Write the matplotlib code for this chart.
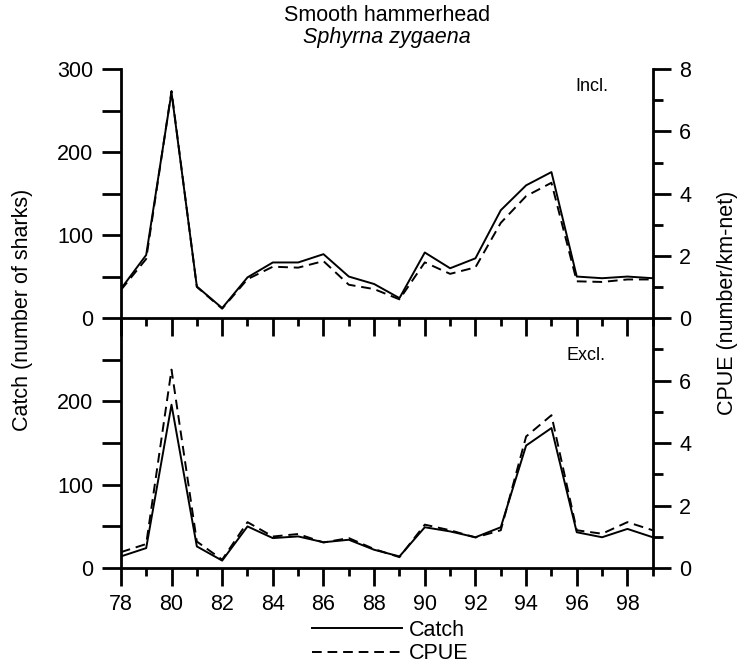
import matplotlib
matplotlib.use("Agg")
import matplotlib.pyplot as plt
from matplotlib.ticker import MultipleLocator, FixedLocator, FuncFormatter

plt.rcParams["font.family"] = ["Liberation Sans", "DejaVu Sans"]

years = list(range(78, 100))

# Incl. panel
catch_incl = [35, 76, 272, 38, 12, 49, 67, 67, 77, 50, 41,
              24, 79, 60, 72, 130, 160, 176, 50, 48, 50, 48]
cpue_incl = [0.9, 1.9, 7.3, 1.0, 0.3, 1.25, 1.65, 1.62, 1.83, 1.07, 0.93,
             0.6, 1.79, 1.42, 1.63, 3.06, 3.92, 4.35, 1.18, 1.16, 1.24, 1.24]

# Excl. panel
catch_excl = [14, 24, 196, 26, 9, 50, 36, 38, 31, 34, 22,
              14, 49, 44, 37, 49, 147, 168, 43, 37, 47, 37]
cpue_excl = [0.51, 0.77, 6.35, 0.85, 0.27, 1.47, 1.01, 1.09, 0.82, 0.96, 0.61,
             0.35, 1.39, 1.21, 0.98, 1.21, 4.21, 4.89, 1.21, 1.1, 1.47, 1.21]

FS = 15.5
LW = 1.4
DASH = (0, (5, 3))

fig = plt.figure(figsize=(7.46, 6.66), dpi=100)
left, width = 0.162, 0.713
ax_top = fig.add_axes([left, 0.5225, width, 0.3735])
ax_bot = fig.add_axes([left, 0.147, width, 0.3755])


def style_axes(ax, axr, left_ticks, left_labels, right_ticks, right_labels, show_xlabels):
    ax.set_xlim(78, 99)
    ax.set_ylim(0, 300)
    axr.set_ylim(0, 8)
    for a in (ax, axr):
        a.patch.set_visible(False)
        for s in a.spines.values():
            s.set_linewidth(2)
        a.spines["top"].set_visible(False)
    ax.spines["right"].set_visible(False)
    axr.spines["left"].set_visible(False)
    axr.spines["bottom"].set_visible(False)

    ax.xaxis.set_major_locator(MultipleLocator(2))
    ax.xaxis.set_minor_locator(MultipleLocator(1))
    ax.tick_params(axis="x", which="major", direction="out", length=13, width=2,
                   labelsize=FS, labelbottom=show_xlabels, pad=6)
    ax.tick_params(axis="x", which="minor", direction="out", length=6, width=2)

    ax.yaxis.set_major_locator(FixedLocator(left_ticks))
    ax.yaxis.set_major_formatter(FuncFormatter(
        lambda v, p: f"{int(v)}" if int(v) in left_labels else ""))
    ax.tick_params(axis="y", which="major", direction="out", length=14, width=2,
                   labelsize=FS, pad=6)

    axr.yaxis.set_major_locator(FixedLocator(right_labels))
    axr.yaxis.set_minor_locator(FixedLocator([t for t in right_ticks if t not in right_labels]))
    axr.yaxis.set_major_formatter(FuncFormatter(lambda v, p: f"{int(v)}"))
    axr.tick_params(axis="y", which="major", direction="out", length=13, width=2,
                    labelsize=FS, pad=6)
    axr.tick_params(axis="y", which="minor", direction="out", length=7, width=2)


ax_top_r = ax_top.twinx()
ax_top.plot(years, catch_incl, color="black", lw=LW, label="Catch")
ax_top_r.plot(years, cpue_incl, color="black", lw=LW, linestyle=DASH, label="CPUE")
style_axes(ax_top, ax_top_r, list(range(0, 301, 50)), [0, 100, 200, 300],
           list(range(0, 9)), [0, 2, 4, 6, 8], False)
ax_top.text(0.885, 0.93, "Incl.", transform=ax_top.transAxes, fontsize=13,
            ha="center", va="center")

ax_bot_r = ax_bot.twinx()
ax_bot.plot(years, catch_excl, color="black", lw=LW)
ax_bot_r.plot(years, cpue_excl, color="black", lw=LW, linestyle=DASH)
style_axes(ax_bot, ax_bot_r, list(range(0, 251, 50)), [0, 100, 200],
           list(range(0, 8)), [0, 2, 4, 6], True)
ax_bot.text(0.875, 0.85, "Excl.", transform=ax_bot.transAxes, fontsize=13,
            ha="center", va="center")

fig.text(0.519, 0.976, "Smooth hammerhead", fontsize=FS, ha="center", va="center")
fig.text(0.519, 0.943, "Sphyrna zygaena", fontsize=FS, ha="center", va="center",
         style="italic")
fig.text(0.03, 0.535, "Catch (number of sharks)", fontsize=FS, rotation=90,
         ha="center", va="center")
fig.text(0.975, 0.545, "CPUE (number/km-net)", fontsize=FS, rotation=90,
         ha="center", va="center")

h1, = ax_top.get_lines()
h2, = ax_top_r.get_lines()
fig.legend([h1, h2], ["Catch", "CPUE"], loc="center", bbox_to_anchor=(0.523, 0.036),
           frameon=False, fontsize=FS, handlelength=4.2, handletextpad=0.3,
           labelspacing=0.12, borderaxespad=0, borderpad=0)

fig.savefig("out.png", dpi=100)
